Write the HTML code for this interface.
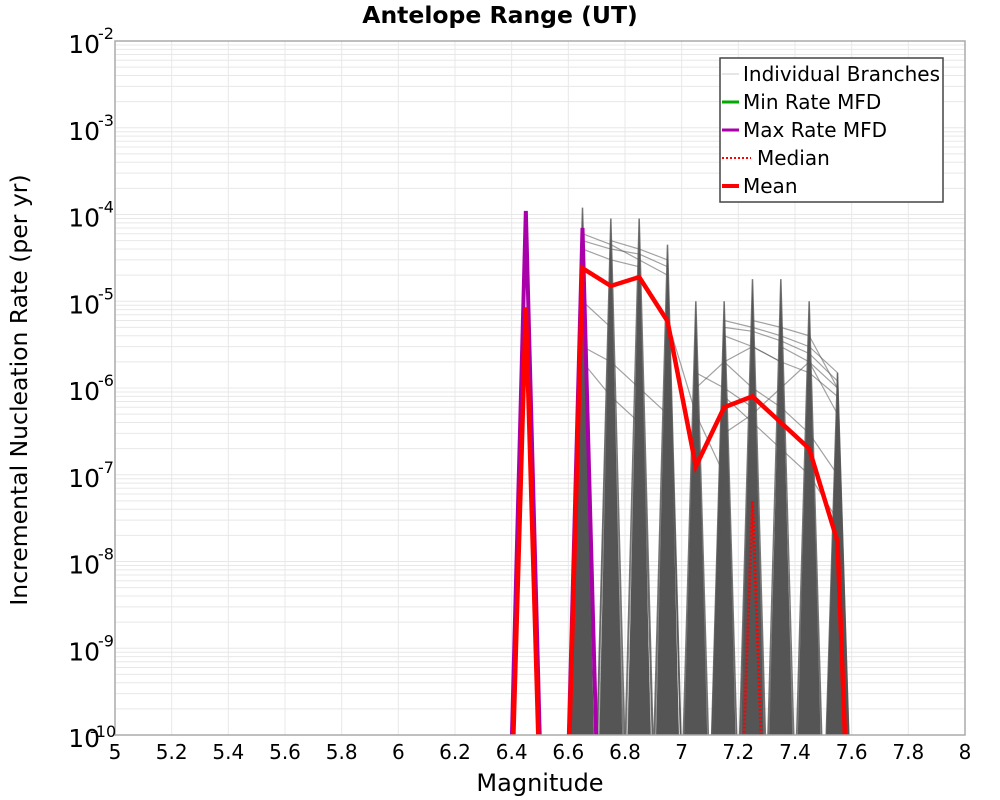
<!DOCTYPE html>
<html><head><meta charset="utf-8"><style>
body{margin:0;background:#fff}
svg{display:block;font-family:"DejaVu Sans","Liberation Sans",sans-serif}
</style></head><body>
<svg id="chart" width="1000" height="800">
<defs><clipPath id="clip"><rect x="115" y="41" width="850" height="694"/></clipPath></defs>
<text x="500" y="23" text-anchor="middle" font-size="23.5" font-weight="bold">Antelope Range (UT)</text>
<g id="grid"></g>
<g id="marks" clip-path="url(#clip)"></g>
<rect x="115" y="41" width="850" height="694" fill="none" stroke="#aaa" stroke-width="1.5"/>
<g id="axes"></g>
<text x="540" y="791" text-anchor="middle" font-size="24">Magnitude</text>
<text transform="translate(27,390) rotate(-90)" text-anchor="middle" font-size="23.5">Incremental Nucleation Rate (per yr)</text>
<g>
<rect x="720" y="58" width="223" height="144" fill="#fff" stroke="#444" stroke-width="1.5"/>
<line x1="722" y1="74" x2="739" y2="74" stroke="#ccc" stroke-width="1"/>
<text x="743" y="81" font-size="20">Individual Branches</text>
<line x1="722" y1="102" x2="739" y2="102" stroke="#00aa00" stroke-width="3"/>
<text x="743" y="109" font-size="20">Min Rate MFD</text>
<line x1="722" y1="130" x2="739" y2="130" stroke="#aa00aa" stroke-width="3"/>
<text x="743" y="137" font-size="20">Max Rate MFD</text>
<line x1="722" y1="158" x2="751" y2="158" stroke="#f00" stroke-width="2" stroke-dasharray="2,2"/>
<text x="757" y="165" font-size="20">Median</text>
<line x1="722" y1="186" x2="739" y2="186" stroke="#f00" stroke-width="4"/>
<text x="743" y="193" font-size="20">Mean</text>
</g>
</svg>
<script>
const xTicks=[5,5.2,5.4,5.6,5.8,6,6.2,6.4,6.6,6.8,7,7.2,7.4,7.6,7.8,8];
const xTickLabels=["5","5.2","5.4","5.6","5.8","6","6.2","6.4","6.6","6.8","7","7.2","7.4","7.6","7.8","8"];
const yDecades=[-2,-3,-4,-5,-6,-7,-8,-9,-10];
const mags=[6.35,6.45,6.55,6.65,6.75,6.85,6.95,7.05,7.15,7.25,7.35,7.45,7.55,7.65];
const meanRates=[0,8.5e-6,0,2.4e-5,1.5e-5,1.9e-5,5.9e-6,1.25e-7,6e-7,8e-7,4e-7,2e-7,1.7e-8,0];
const medianRates=[0,0,0,0,0,0,0,0,0,5e-8,0,0,0,0];
const maxRates=[0,1.1e-4,0,7e-5,0,0,0,0,0,0,0,0,0,0];
const minRates=[0,0,0,0,0,0,0,0,0,0,0,0,0,0];
const spikePeaks=[0,1.1e-4,0,1.2e-4,9e-5,9e-5,4.5e-5,1e-5,1e-5,1.8e-5,1.8e-5,1e-5,1.5e-6,0];
const branches=[
[0,0,0,5e-5,4e-5,3.5e-5,2.5e-5,0,0,0,0,0,0,0],
[0,0,0,6e-5,4.5e-5,3e-5,2e-5,0,0,0,0,0,0,0],
[0,0,0,4e-5,3e-5,2.5e-5,0,0,0,0,0,0,0,0],
[0,0,0,3e-6,2e-6,1e-6,5e-7,0,0,0,0,0,0,0],
[0,0,0,2e-6,8e-7,4e-7,0,0,0,0,0,0,0,0],
[0,0,0,0,5e-5,4e-5,3e-5,0,0,0,0,0,0,0],
[0,0,0,0,0,0,0,0,6e-6,5e-6,4e-6,3e-6,1.5e-6,0],
[0,0,0,0,0,0,0,0,5e-6,4.5e-6,3.5e-6,2.5e-6,1.2e-6,0],
[0,0,0,0,0,0,0,0,4e-6,3e-6,2e-6,1.5e-6,8e-7,0],
[0,0,0,0,0,0,0,0,0,6e-6,5e-6,4e-6,1e-6,0],
[0,0,0,0,0,0,0,0,2e-6,1e-6,6e-7,3e-7,1e-7,0],
[0,0,0,0,0,0,0,0,8e-7,4e-7,2e-7,1e-7,3e-8,0],
[0,0,0,0,0,0,0,1.5e-6,1e-6,6e-7,0,0,0,0],
[0,0,0,0,0,0,0,3e-6,0,5e-6,0,0,0,0],
[0,0,0,0,0,0,0,1e-6,2e-6,3e-6,2e-6,0,0,0],
[0,0,0,0,0,0,0,0,3e-7,5e-7,1e-6,2e-6,5e-7,0],
[0,0,0,1e-6,0,2e-6,0,3e-7,0,0,0,0,0,0],
[0,0,0,0,3e-6,0,1e-6,0,0,0,0,0,0,0],
[0,0,0,0,0,0,6e-6,5e-7,1e-7,0,0,0,0,0],
[0,0,0,0,0,0,0,0,0,0,3e-6,2e-6,1e-6,0],
[0,0,0,3e-5,0,2e-5,0,0,0,0,0,0,0,0],
[0,0,0,0,2e-5,0,1.5e-5,0,0,0,0,0,0,0],
[0,0,0,1e-5,5e-6,0,0,0,0,0,0,0,0,0],
[0,0,0,0,0,0,0,0,4e-6,0,3e-6,0,5e-7,0],
[0,0,0,0,0,0,0,0,0,3e-6,0,3e-6,0,0]
];
const NS="http://www.w3.org/2000/svg";
const X0=115,X1=965,Y0=41,Y1=735;
function xs(m){return X0+(m-5)/3*(X1-X0);}
function ys(v){const l=v>0?Math.log10(v):-16.3;return Y0+(-2-l)/8*(Y1-Y0);}
function mk(t,a,p){const e=document.createElementNS(NS,t);for(const k in a)e.setAttribute(k,a[k]);p.appendChild(e);return e;}
const grid=document.getElementById('grid'),marks=document.getElementById('marks'),axes=document.getElementById('axes');
for(let d=-10;d<-2;d++){for(let k=1;k<10;k++){const y=ys(k*Math.pow(10,d));
const l=mk('line',{x1:X0,x2:X1,y1:y,y2:y,stroke:'#e8e8e8','stroke-width':1},grid);

}}
xTicks.forEach((t,i)=>{const x=xs(t);
const l=mk('line',{x1:x,x2:x,y1:Y0,y2:Y1,stroke:'#e8e8e8','stroke-width':1},grid);


const tx=mk('text',{x:x,y:759,'text-anchor':'middle','font-size':20},axes);
tx.textContent=xTickLabels[i];

});
yDecades.forEach(d=>{const y=ys(Math.pow(10,d));
const tx=mk('text',{x:100,y:y+12,'text-anchor':'end','font-size':25},axes);
tx.textContent='10';


const sp=mk('text',{x:98,y:y-2,'font-size':16},axes);
sp.textContent=String(d);


if(d===-10){sp.setAttribute('x',90);sp.setAttribute('y',y+2);}});
function pts(arr){return arr.map((v,i)=>xs(mags[i])+','+ys(v)).join(' ');}
spikePeaks.forEach((v,i)=>{if(!(v>0)||i<3)return;const x=xs(mags[i]);
const p=mk('polygon',{points:(xs(mags[i]-0.04))+','+Y1+' '+x+','+ys(v)+' '+(xs(mags[i]+0.04))+','+Y1,fill:'#555'},marks);


const q=mk('polyline',{points:pts(mags.map((m,j)=>j===i?v:0)),fill:'none',stroke:'#555','stroke-width':1.5,opacity:0.8},marks);

});
branches.forEach(b=>{const l=mk('polyline',{points:pts(b),fill:'none',stroke:'#555','stroke-width':1.2,opacity:0.55},marks);

});
const mn=mk('polyline',{points:pts(minRates),fill:'none',stroke:'#00aa00','stroke-width':3},marks);


const mx=mk('polyline',{points:pts(maxRates),fill:'none',stroke:'#aa00aa','stroke-width':4},marks);


const md=mk('polyline',{points:pts(medianRates),fill:'none',stroke:'#f00','stroke-width':3,'stroke-dasharray':'2,2'},marks);


const me=mk('polyline',{points:pts(meanRates),fill:'none',stroke:'#f00','stroke-width':4.5,'stroke-linejoin':'miter'},marks);


</script>
</body></html>
